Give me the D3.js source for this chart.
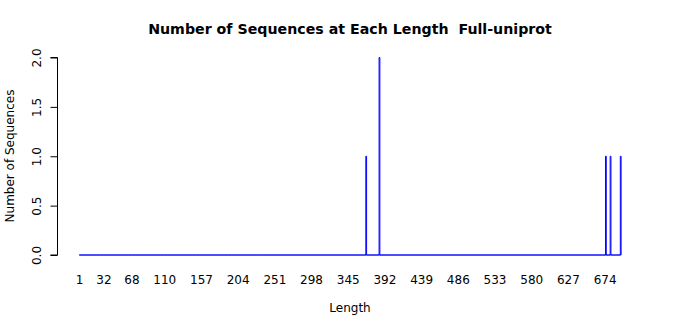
<!DOCTYPE html>
<html>
<head>
<meta charset="utf-8">
<script src="https://cdn.jsdelivr.net/npm/d3@7"></script>
<style>
html,body{margin:0;padding:0;background:#fff;}
svg{display:block;font-family:"DejaVu Sans",sans-serif;}
</style>
</head>
<body>
<svg id="chart" width="700" height="315"></svg>
<script>
// Data: sequence lengths 1..maxLength, counts non-zero at a few lengths
const maxLength = 694;
const seqLengths = [368, 385, 675, 681, 694];
const seqCounts = [1, 2, 1, 1, 1];
const xTickLabels = [1, 32, 68, 110, 157, 204, 251, 298, 345, 392, 439, 486, 533, 580, 627, 674];
const yTicks = [0, 0.5, 1, 1.5, 2];
const titleText = "Number of Sequences at Each Length  Full-uniprot";
const xTitle = "Length";
const yTitle = "Number of Sequences";

const countMap = new Map(seqLengths.map((l, i) => [l, seqCounts[i]]));
const categories = d3.range(1, maxLength + 1);
const bars = categories.map(l => ({ len: l, count: countMap.get(l) || 0 }));

const svg = d3.select("#chart");

const x = d3.scaleLinear().domain([0, maxLength]).range([79.3, 621.1]);
const y = d3.scaleLinear().domain([0, 2]).range([255, 57.5]);

// bars as closed paths (zero-height bars still draw the baseline)
svg.append("g").selectAll("path").data(bars).join("path")
  .attr("d", d => {
    const x0 = x(d.len - 1), x1 = x(d.len), y0 = y(0), y1 = y(d.count);
    return `M${x0},${y0}V${y1}H${x1}V${y0}Z`;
  })
  .attr("fill", "none")
  .attr("stroke", "#0000ff")
  .attr("stroke-width", 1);

// y axis
const yAxis = d3.axisLeft(y).tickValues(yTicks).tickFormat(d3.format(".1f")).tickSize(7).tickPadding(0);
const gy = svg.append("g").attr("transform", "translate(57.5,0)").call(yAxis);
gy.select(".domain").attr("d", `M-7,${y(0)}H0V${y(2)}H-7`).attr("stroke", "#000");
gy.selectAll(".tick line").attr("stroke", "#000");
gy.selectAll(".tick text")
  .attr("font-size", 12)
  .attr("font-family", "DejaVu Sans")
  .attr("fill", "#000")
  .attr("transform", "rotate(-90)")
  .attr("x", 0).attr("y", -17)
  .attr("dy", 0)
  .attr("text-anchor", "middle");

// x tick labels (no axis line, like R barplot names)
svg.append("g").selectAll("text").data(xTickLabels).join("text")
  .attr("x", d => x(d - 0.5))
  .attr("y", 283.5)
  .attr("text-anchor", "middle")
  .attr("font-size", 12)
  .attr("fill", "#000")
  .text(d => d);

// titles
svg.append("text").attr("x", 350).attr("y", 34).attr("text-anchor", "middle")
  .style("white-space", "pre").attr("xml:space", "preserve")
  .attr("font-size", 14.2).attr("font-weight", "bold").attr("fill", "#000").text(titleText);
svg.append("text").attr("x", 350).attr("y", 311.5).attr("text-anchor", "middle")
  .attr("font-size", 12).attr("fill", "#000").text(xTitle);
svg.append("text").attr("transform", "translate(13.5,156) rotate(-90)").attr("text-anchor", "middle")
  .attr("font-size", 12).attr("fill", "#000").text(yTitle);
</script>
</body>
</html>
